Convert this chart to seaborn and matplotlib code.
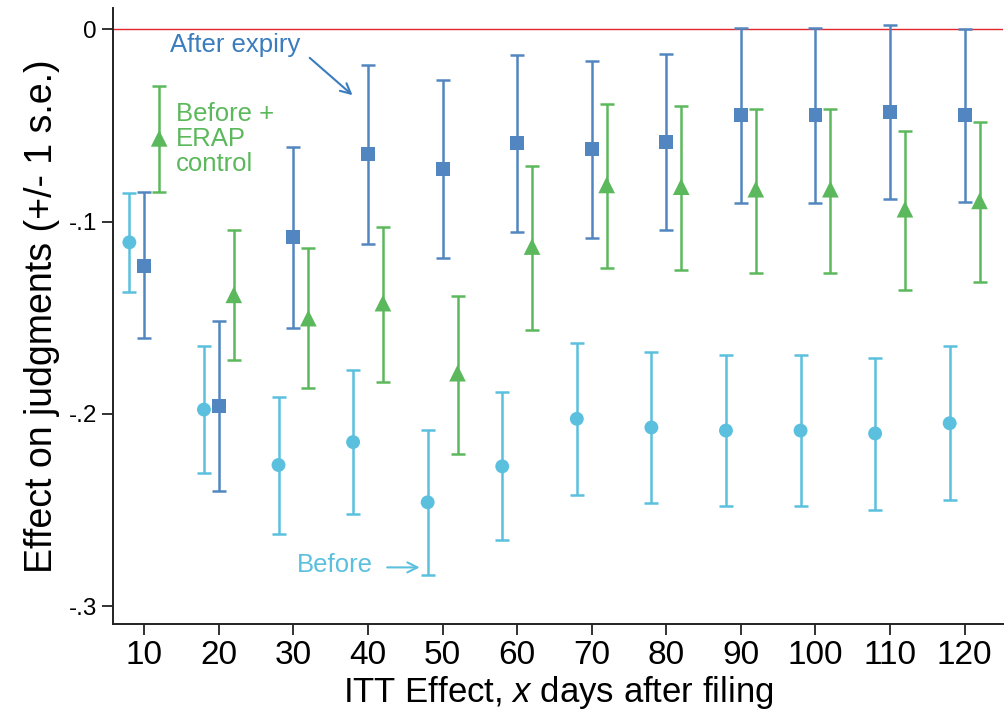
import numpy as np
import pandas as pd
import matplotlib
matplotlib.use("Agg")
import matplotlib.pyplot as plt
import seaborn as sns

# ---- data ----
days = [10, 20, 30, 40, 50, 60, 70, 80, 90, 100, 110, 120]

before_est = [-0.1108, -0.1977, -0.2265, -0.2146, -0.2459, -0.2272, -0.2025, -0.2070, -0.2086, -0.2086, -0.2101, -0.2048]
before_hi = [-0.0850, -0.1646, -0.1911, -0.1772, -0.2082, -0.1886, -0.1630, -0.1677, -0.1691, -0.1691, -0.1707, -0.1649]
before_lo = [-0.1367, -0.2305, -0.2622, -0.2517, -0.2835, -0.2657, -0.2421, -0.2465, -0.2480, -0.2480, -0.2497, -0.2445]

after_est = [-0.1229, -0.1959, -0.1082, -0.0651, -0.0729, -0.0594, -0.0625, -0.0588, -0.0448, -0.0448, -0.0433, -0.0448]
after_hi = [-0.0848, -0.1518, -0.0611, -0.0189, -0.0265, -0.0135, -0.0168, -0.0132, 0.0005, 0.0005, 0.0021, 0.0002]
after_lo = [-0.1604, -0.2399, -0.1551, -0.1115, -0.1189, -0.1054, -0.1085, -0.1044, -0.0903, -0.0903, -0.0884, -0.0900]

erap_est = [-0.0568, -0.1381, -0.1502, -0.1424, -0.1788, -0.1130, -0.0810, -0.0819, -0.0832, -0.0832, -0.0936, -0.0893]
erap_hi = [-0.0294, -0.1044, -0.1139, -0.1026, -0.1388, -0.0713, -0.0391, -0.0400, -0.0414, -0.0414, -0.0531, -0.0484]
erap_lo = [-0.0848, -0.1722, -0.1866, -0.1836, -0.2207, -0.1563, -0.1244, -0.1251, -0.1265, -0.1265, -0.1357, -0.1315]

yticks = [0, -0.1, -0.2, -0.3]
ytick_labels = ["0", "-.1", "-.2", "-.3"]

# ---- style ----
sns.set_theme(style="ticks")
plt.rcParams['font.family'] = ['Liberation Sans', 'DejaVu Sans']
plt.rcParams['mathtext.fontset'] = 'custom'
plt.rcParams['mathtext.it'] = 'Liberation Sans:italic'
plt.rcParams['mathtext.rm'] = 'Liberation Sans'
for k in ['text.color', 'axes.labelcolor', 'xtick.color', 'ytick.color']:
    plt.rcParams[k] = 'black'

c_before = "#5bc0de"
c_after = "#5186c0"
c_erap = "#5cb85c"

fig = plt.figure(figsize=(10.05, 7.17), dpi=100)
ax = fig.add_axes([0.1124, 0.13, 0.886, 0.859])

ax.axhline(0, color="#e3242b", lw=1.0, zorder=1)

series = [
    ("Before", -2, before_est, before_hi, before_lo, c_before, "o", 10),
    ("After expiry", 0, after_est, after_hi, after_lo, c_after, "s", 10),
    ("Before + ERAP control", 2, erap_est, erap_hi, erap_lo, c_erap, "^", 12),
]

for name, off, est, hi, lo, col, mk, ms in series:
    x = np.array(days) + off
    est = np.array(est); hi = np.array(hi); lo = np.array(lo)
    ax.errorbar(x, est, yerr=[est - lo, hi - est], fmt="none",
                ecolor=col, elinewidth=1.8, capsize=5, capthick=1.8, zorder=2)
    df = pd.DataFrame({"x": x, "y": est})
    sns.scatterplot(data=df, x="x", y="y", ax=ax, color=col, marker=mk,
                    s=ms ** 2, edgecolor="none", linewidth=0, zorder=3, legend=False)

ax.set_xlim(5.8, 125.2)
ax.set_ylim(-0.309, 0.011)
ax.set_xticks(days)
ax.set_xticklabels([str(d) for d in days], fontsize=24)
ax.set_yticks(yticks)
ax.set_yticklabels(ytick_labels, fontsize=17.5)
ax.tick_params(axis="both", direction="out", length=8, width=1.3, color="#222222")
ax.tick_params(axis="x", pad=4)

for s in ["top", "right"]:
    ax.spines[s].set_visible(False)
for s in ["left", "bottom"]:
    ax.spines[s].set_linewidth(1.4)
    ax.spines[s].set_color("#222222")

ax.set_xlabel("ITT Effect, $x$ days after filing", fontsize=25, labelpad=2)
ax.set_ylabel("Effect on judgments (+/- 1 s.e.)", fontsize=27, labelpad=6)

# annotations
ax.text(13.4, -0.0083, "After expiry", color="#3a7cbd", fontsize=18.5,
        ha="left", va="center")
ax.annotate("", xy=(38.2, -0.0353), xytext=(31.9, -0.014),
            arrowprops=dict(arrowstyle="->", color="#3a7cbd", lw=1.5, mutation_scale=18))

ax.text(14.2, -0.0571, "Before +\nERAP\ncontrol", color=c_erap, fontsize=18.5,
        ha="left", va="center", linespacing=1.05)

ax.text(30.4, -0.2787, "Before", color=c_before, fontsize=18.5, ha="left", va="center")
ax.annotate("", xy=(47.3, -0.2797), xytext=(42.2, -0.2797),
            arrowprops=dict(arrowstyle="->", color=c_before, lw=1.5, mutation_scale=18))

fig.savefig("out.png", dpi=100)
